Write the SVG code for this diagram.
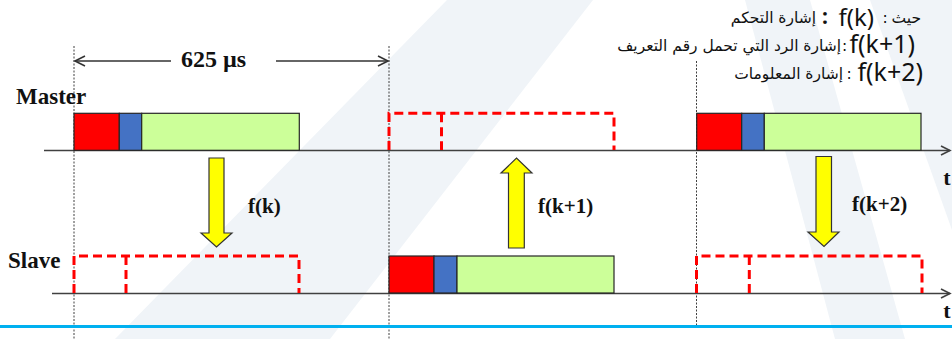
<svg xmlns="http://www.w3.org/2000/svg" width="952" height="339" viewBox="0 0 952 339">
<defs>
<style>
.wm{fill:#F0F4F8;stroke:none}
.axis{stroke:#404040;stroke-width:1.6;fill:none}
.guide{stroke:#404040;stroke-width:1;stroke-dasharray:2,1.5;fill:none}
.dim{stroke:#333;stroke-width:1.6;fill:none}
.blk{stroke:#262626;stroke-width:1.2}
.red{fill:#FF0000}
.blue{fill:#4472C4}
.green{fill:#CCFF99}
.empty{fill:none;stroke:#FF0000;stroke-width:3;stroke-dasharray:9,5}
.yarrow{fill:#FFFF00;stroke:#333;stroke-width:1.2}
.lbl{font-family:"Liberation Serif","Times New Roman",serif;font-weight:bold;fill:#111}
.lat{font-family:"Noto Sans","Open Sans",sans-serif;fill:#111}
.ar{font-family:"DejaVu Sans","Noto Sans",sans-serif;fill:#111}
</style>
</defs>
<rect width="952" height="339" fill="#FFFFFF"/>
<g id="watermark">
<polygon class="wm" points="447,0 593,0 330,339 115,339"/>
<polygon class="wm" points="745,0 810,0 905,339 835,339"/>
<polygon class="wm" points="870,0 952,0 952,230"/>
</g>
<g id="guides">
<line class="guide" x1="74" y1="46" x2="74" y2="339"/>
<line class="guide" x1="389" y1="46" x2="389" y2="339"/>
<line class="guide" x1="696.5" y1="61" x2="696.5" y2="325"/>
</g>
<line id="bottom-rule" x1="0" y1="326.5" x2="952" y2="326.5" stroke="#00B0F0" stroke-width="3"/>
<g id="dimension">
<line class="dim" x1="75" y1="61" x2="171" y2="61"/>
<polyline class="dim" points="85,56 75,61 85,66"/>
<line class="dim" x1="276" y1="61" x2="388" y2="61"/>
<polyline class="dim" points="378,56 388,61 378,66"/>
<text class="lbl" x="213.5" y="67" font-size="24" text-anchor="middle">625 µs</text>
</g>
<g id="axes">
<line class="axis" x1="44" y1="150.5" x2="950" y2="150.5"/>
<polyline class="axis" points="941,146 950,150.5 941,155"/>
<line class="axis" x1="52" y1="293.5" x2="950" y2="293.5"/>
<polyline class="axis" points="941,289 950,293.5 941,298"/>
<text class="lbl" x="947" y="185" font-size="22" text-anchor="middle">t</text>
<text class="lbl" x="947" y="318" font-size="22" text-anchor="middle">t</text>
</g>
<g id="labels">
<text class="lbl" x="16" y="104" font-size="23">Master</text>
<text class="lbl" x="8" y="268" font-size="23">Slave</text>
</g>
<g id="master-slot1">
<rect class="blk red" x="74" y="113.3" width="45.3" height="37"/>
<rect class="blk blue" x="119.3" y="113.3" width="22.4" height="37"/>
<rect class="blk green" x="141.7" y="113.3" width="157.6" height="37"/>
</g>
<g id="slave-slot1">
<path class="empty" d="M74,293 V256 H299 V293 M126,256 V293"/>
</g>
<g id="master-slot2">
<path class="empty" d="M389,150 V113.3 H614 V150 M441.5,113.3 V150"/>
</g>
<g id="slave-slot2">
<rect class="blk red" x="389" y="256" width="45" height="37"/>
<rect class="blk blue" x="434" y="256" width="23" height="37"/>
<rect class="blk green" x="457" y="256" width="157" height="37"/>
</g>
<g id="master-slot3">
<rect class="blk red" x="696.7" y="113.3" width="45" height="37"/>
<rect class="blk blue" x="741.7" y="113.3" width="22.6" height="37"/>
<rect class="blk green" x="764.3" y="113.3" width="156.7" height="37"/>
</g>
<g id="slave-slot3">
<path class="empty" d="M696.5,293 V256 H922 V293 M749.3,256 V293"/>
</g>
<g id="connectors">
<path class="yarrow" d="M209,158 H224 V233 H232 L216.5,247 L201,233 H209 Z"/>
<path class="yarrow" d="M508.5,248 H524.3 V173 H532 L516.5,158 L501,173 H508.5 Z"/>
<path class="yarrow" d="M816,156.5 H831.5 V232 H839 L824,246.5 L808,232 H816 Z"/>
</g>
<g id="connector-labels">
<text class="lbl" x="248" y="213" font-size="21">f(k)</text>
<text class="lbl" x="538" y="213" font-size="21">f(k+1)</text>
<text class="lbl" x="852" y="211" font-size="21">f(k+2)</text>
</g>
<g id="legend">
<text class="ar" x="921" y="23" font-size="15.5" text-anchor="end">حيث</text>
<text class="ar" x="885" y="23" font-size="15.5" text-anchor="middle">:</text>
<text class="lat" x="874" y="26" font-size="24" text-anchor="end">f(k)</text>
<text class="lat" x="825" y="24" font-size="21" font-weight="bold" text-anchor="middle">:</text>
<text class="ar" x="816" y="23" font-size="15.5" text-anchor="end">إشارة التحكم</text>
<text class="lat" x="915" y="53" font-size="25" text-anchor="end">f(k+1)</text>
<text class="ar" x="844.5" y="51" font-size="15.5" text-anchor="middle">:</text>
<text class="ar" x="841" y="51" font-size="15.5" text-anchor="end">إشارة الرد التي تحمل رقم التعريف</text>
<text class="lat" x="923" y="81" font-size="25" text-anchor="end">f(k+2)</text>
<text class="ar" x="849" y="79" font-size="15.5" text-anchor="middle">:</text>
<text class="ar" x="843" y="79" font-size="15.5" text-anchor="end">إشارة المعلومات</text>
</g>
</svg>
